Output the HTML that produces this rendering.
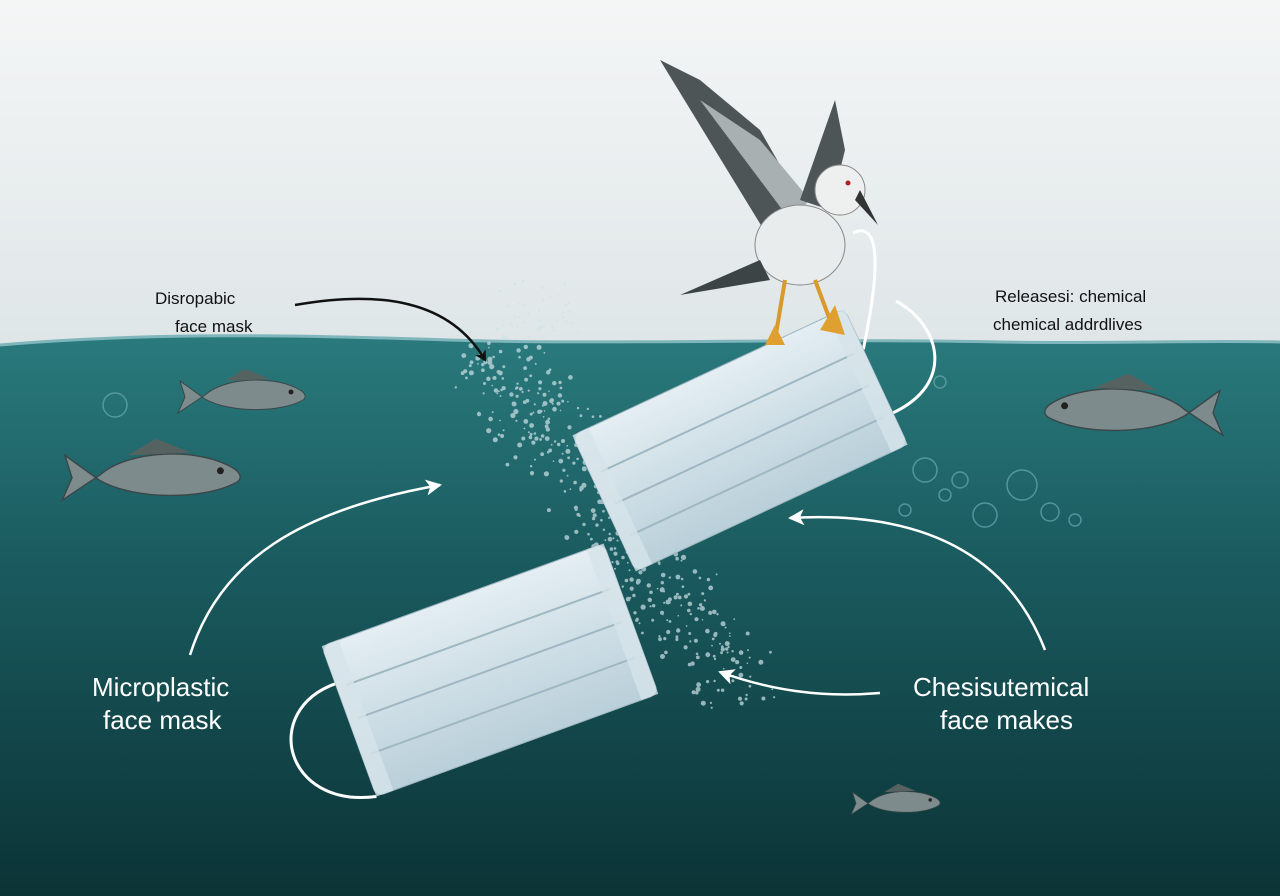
<!DOCTYPE html>
<html><head><meta charset="utf-8"><style>
html,body{margin:0;padding:0;width:1280px;height:896px;overflow:hidden;background:#fff}
svg{display:block}
text{font-family:"Liberation Sans",sans-serif}
</style></head><body>
<svg width="1280" height="896" viewBox="0 0 1280 896" xmlns="http://www.w3.org/2000/svg">
<defs>
<linearGradient id="sky" x1="0" y1="0" x2="0" y2="1">
<stop offset="0" stop-color="#f4f6f6"/><stop offset="1" stop-color="#dfe6e8"/></linearGradient>
<linearGradient id="sea" x1="0" y1="0" x2="0" y2="1">
<stop offset="0" stop-color="#2a7a7d"/><stop offset="0.4" stop-color="#1a5b5f"/><stop offset="1" stop-color="#0b3336"/></linearGradient>
<linearGradient id="mask" x1="0" y1="0" x2="0" y2="1">
<stop offset="0" stop-color="#e4eef3"/><stop offset="1" stop-color="#b9cfd9"/></linearGradient>
<marker id="ab" markerWidth="12" markerHeight="12" refX="9" refY="6" orient="auto" markerUnits="userSpaceOnUse"><path d="M0,0 L11,6 L0,12 L3,6z" fill="#111"/></marker>
<marker id="aw" markerWidth="18" markerHeight="18" refX="14" refY="9" orient="auto" markerUnits="userSpaceOnUse"><path d="M0,1 L16,9 L0,17 L4,9z" fill="#fff"/></marker>
<g id="fish"><path d="M0,0 C20,-18 70,-20 95,-5 C100,-2 102,2 98,5 C75,18 25,18 0,4 L-25,-14 L-20,2 L-27,18 Z" fill="#7d8b8d" stroke="#3b4648" stroke-width="1"/><path d="M20,-14 L40,-26 L65,-16" fill="#56625f"/><circle cx="86" cy="-3" r="2.5" fill="#222"/></g>
</defs>
<rect width="1280" height="345" fill="url(#sky)"/>
<path d="M0,345 C150,332 300,335 450,340 C600,345 800,338 1000,342 C1100,344 1200,340 1280,342 L1280,896 L0,896Z" fill="url(#sea)"/>
<path d="M0,345 C150,332 300,335 450,340 C600,345 800,338 1000,342 C1100,344 1200,340 1280,342" stroke="#7fb6bb" stroke-width="3" fill="none"/>
<g id="parts" fill="#cfe3e8" opacity="0.7"></g>
<g fill="none" stroke="#5fa3a8" stroke-width="1.5" opacity="0.8">
<circle cx="925" cy="470" r="12"/><circle cx="960" cy="480" r="8"/><circle cx="945" cy="495" r="6"/><circle cx="1022" cy="485" r="15"/><circle cx="985" cy="515" r="12"/><circle cx="1050" cy="512" r="9"/><circle cx="1075" cy="520" r="6"/><circle cx="905" cy="510" r="6"/><circle cx="940" cy="382" r="6"/><circle cx="115" cy="405" r="12"/>
</g>
<use href="#fish" transform="translate(205,395)"/>
<use href="#fish" transform="translate(100,475) scale(1.4)"/>
<use href="#fish" transform="translate(1185,410) scale(-1.4,1.4)"/>
<use href="#fish" transform="translate(870,802) scale(0.7)"/>
<g transform="translate(740,440) rotate(-25)">
<path d="M150,-30 C210,-110 215,-140 190,-140" fill="none" stroke="#fff" stroke-width="3"/>
<path d="M150,40 C220,40 230,-20 200,-60" fill="none" stroke="#fff" stroke-width="3"/>
<rect x="-150" y="-75" width="300" height="150" rx="8" fill="url(#mask)" stroke="#9fb7c2"/>
<g stroke="#9fb7c2" stroke-width="2" fill="none"><path d="M-140,-30 H140"/><path d="M-140,5 H140"/><path d="M-140,40 H140"/></g>
<rect x="-150" y="-75" width="18" height="150" fill="#d6e3ea" opacity=".8"/><rect x="132" y="-75" width="18" height="150" fill="#d6e3ea" opacity=".8"/>
</g>
<g transform="translate(490,670) rotate(-20)">
<path d="M-150,-40 C-230,-40 -240,60 -150,80" fill="none" stroke="#fff" stroke-width="3"/>
<rect x="-150" y="-80" width="300" height="160" rx="8" fill="url(#mask)" stroke="#9fb7c2"/>
<g stroke="#9fb7c2" stroke-width="2" fill="none"><path d="M-140,-35 H140"/><path d="M-140,0 H140"/><path d="M-140,38 H140"/></g>
<rect x="-150" y="-80" width="18" height="160" fill="#d6e3ea" opacity=".8"/><rect x="132" y="-80" width="18" height="160" fill="#d6e3ea" opacity=".8"/>
</g>
<g>
<path d="M770,240 L660,60 L700,80 L760,130 L800,200Z" fill="#4d5556"/>
<path d="M790,220 L700,100 L760,140 L810,200Z" fill="#a9b0b1"/>
<path d="M800,200 L835,100 L845,150 L830,210Z" fill="#4d5556"/>
<ellipse cx="800" cy="245" rx="45" ry="40" fill="#e8ecec" stroke="#888"/>
<circle cx="840" cy="190" r="25" fill="#eef0f0" stroke="#888"/>
<path d="M860,190 L878,225 L855,200Z" fill="#333"/>
<circle cx="848" cy="183" r="2.5" fill="#a22"/>
<path d="M760,260 L680,295 L770,280Z" fill="#3d4445"/>
<g stroke="#d99a2a" stroke-width="4" fill="none"><path d="M785,280 L775,340"/><path d="M815,280 L830,320"/></g>
<path d="M765,345 L775,325 L785,345Z M820,330 L835,305 L845,335Z" fill="#e0a030"/>
</g>
<path d="M295,305 C380,290 450,300 485,360" fill="none" stroke="#111" stroke-width="2.5" marker-end="url(#ab)"/>
<path d="M190,655 C220,560 300,510 440,485" fill="none" stroke="#fff" stroke-width="2.5" marker-end="url(#aw)"/>
<path d="M1045,650 C1010,560 930,510 790,518" fill="none" stroke="#fff" stroke-width="2.5" marker-end="url(#aw)"/>
<path d="M880,693 C820,698 770,690 720,672" fill="none" stroke="#fff" stroke-width="2.5" marker-end="url(#aw)"/>
<g font-size="17" fill="#111">
<text x="155" y="304">Disropabic</text><text x="175" y="332">face mask</text>
<text x="995" y="302">Releasesi: chemical</text><text x="993" y="330">chemical addrdlives</text>
</g>
<g font-size="26" fill="#fff">
<text x="92" y="696">Microplastic</text><text x="103" y="729">face mask</text>
<text x="913" y="696">Chesisutemical</text><text x="940" y="729">face makes</text>
</g>
</svg>
<script>
(function(){var g=document.getElementById('parts');var s=7;function r(){s=(s*9301+49297)%233280;return s/233280;}
var h='';for(var i=0;i<450;i++){var t=r();var x=490+t*260+(r()-0.5)*90;var y=350+t*360+(r()-0.5)*60;
if(y>710)continue;var rad=0.8+r()*1.8;h+='<circle cx="'+x.toFixed(1)+'" cy="'+y.toFixed(1)+'" r="'+rad.toFixed(1)+'"/>';}
for(var j=0;j<40;j++){h+='<circle cx="'+(500+r()*80).toFixed(1)+'" cy="'+(280+r()*60).toFixed(1)+'" r="1.2"/>';}
g.innerHTML=h;})();
</script>
</body></html>
